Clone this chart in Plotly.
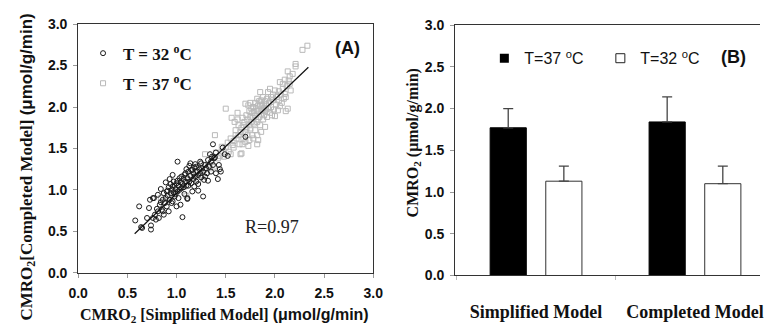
import plotly.graph_objects as go

W, H = 770, 333

# ---------------- Panel A data ----------------
circ_pts = [
    (0.58, 0.63), (0.62, 0.80), (0.64, 0.55), (0.65, 0.54), (0.70, 0.66), (0.72, 0.78),
    (0.73, 0.88), (0.74, 0.57), (0.74, 0.52), (0.76, 0.90), (0.76, 0.66), (0.78, 0.70),
    (0.79, 0.64), (0.80, 0.77), (0.81, 0.74), (0.81, 0.94), (0.82, 0.66), (0.83, 0.82),
    (0.84, 0.85), (0.84, 1.01), (0.85, 0.76), (0.86, 0.74), (0.86, 0.88), (0.87, 0.70),
    (0.87, 0.96), (0.88, 0.84), (0.89, 0.90), (0.89, 1.09), (0.90, 0.80), (0.90, 0.98),
    (0.91, 0.99), (0.91, 0.93), (0.92, 0.74), (0.92, 1.03), (0.93, 0.88), (0.93, 1.13),
    (0.94, 1.07), (0.94, 0.96), (0.95, 0.84), (0.95, 1.00), (0.96, 0.86), (0.96, 1.04),
    (0.97, 0.97), (0.97, 1.10), (0.98, 0.92), (0.98, 1.05), (0.99, 1.01), (0.99, 0.95),
    (1.00, 1.08), (1.00, 0.80), (1.01, 1.11), (1.01, 1.34), (1.01, 0.98), (1.02, 1.05),
    (1.02, 0.90), (1.03, 1.14), (1.03, 1.00), (1.04, 0.82), (1.04, 1.09), (1.05, 1.02),
    (1.05, 1.16), (1.06, 0.67), (1.06, 1.07), (1.07, 1.13), (1.07, 1.03), (1.08, 1.18),
    (1.08, 0.95), (1.09, 1.20), (1.09, 1.10), (1.10, 1.05), (1.10, 1.25), (1.11, 0.90),
    (1.11, 1.14), (1.12, 1.05), (1.12, 1.22), (1.13, 1.10), (1.13, 1.29), (1.14, 1.32),
    (1.14, 1.17), (1.15, 1.08), (1.15, 1.24), (1.16, 1.24), (1.16, 0.98), (1.17, 1.13),
    (1.17, 1.20), (1.18, 1.27), (1.18, 1.04), (1.19, 1.16), (1.19, 1.31), (1.20, 1.28),
    (1.20, 1.10), (1.21, 1.22), (1.22, 1.07), (1.22, 1.18), (1.22, 0.99), (1.23, 1.25),
    (1.24, 1.20), (1.24, 1.34), (1.25, 1.32), (1.25, 1.15), (1.26, 1.26), (1.27, 0.92),
    (1.27, 1.22), (1.28, 1.12), (1.29, 1.16), (1.29, 1.30), (1.30, 1.26), (1.31, 1.20),
    (1.32, 1.11), (1.32, 1.36), (1.33, 1.28), (1.34, 1.43), (1.35, 1.34), (1.35, 1.22),
    (1.36, 1.40), (1.37, 1.55), (1.37, 1.30), (1.38, 1.38), (1.39, 1.39), (1.40, 1.20),
    (1.40, 1.45), (1.42, 1.13), (1.43, 1.30), (1.44, 1.25), (1.45, 1.22), (1.47, 1.51),
    (1.49, 1.43), (1.52, 1.41), (1.70, 1.64), (0.96, 1.18), (1.11, 0.89), (0.77, 0.90),
]
sq_pts = [
    (0.84, 0.90), (0.88, 0.85), (0.95, 0.93), (1.00, 1.02), (1.05, 1.10), (1.08, 1.04),
    (1.10, 0.93), (1.12, 1.12), (1.15, 1.18), (1.18, 1.15), (1.20, 1.22), (1.22, 1.12),
    (1.24, 1.26), (1.26, 1.18), (1.28, 1.24), (1.30, 1.20), (1.32, 1.30), (1.34, 1.26),
    (1.36, 1.34), (1.38, 1.28), (1.29, 1.43), (1.39, 1.66), (1.40, 1.45), (1.42, 1.38),
    (1.44, 1.41), (1.45, 1.45), (1.46, 1.52), (1.48, 1.40), (1.50, 1.51), (1.50, 1.98),
    (1.52, 1.57), (1.53, 1.46), (1.55, 1.43), (1.55, 1.62), (1.56, 1.87), (1.57, 1.54),
    (1.58, 1.59), (1.58, 1.51), (1.59, 1.82), (1.60, 1.66), (1.60, 1.72), (1.61, 1.62),
    (1.62, 1.85), (1.62, 1.93), (1.63, 1.66), (1.63, 1.78), (1.64, 1.55), (1.65, 1.43),
    (1.65, 1.70), (1.66, 1.75), (1.66, 1.44), (1.67, 1.87), (1.67, 1.55), (1.68, 1.62),
    (1.68, 1.78), (1.69, 1.82), (1.70, 2.04), (1.70, 1.70), (1.71, 1.74), (1.71, 1.90),
    (1.72, 1.66), (1.72, 1.85), (1.73, 2.02), (1.73, 1.53), (1.74, 1.78), (1.74, 1.95),
    (1.75, 1.74), (1.75, 2.05), (1.75, 1.88), (1.76, 1.82), (1.76, 1.98), (1.77, 1.66),
    (1.77, 1.93), (1.78, 1.87), (1.78, 2.00), (1.79, 1.80), (1.79, 1.95), (1.80, 1.90),
    (1.80, 2.05), (1.80, 1.72), (1.81, 1.98), (1.81, 1.85), (1.82, 2.10), (1.82, 1.82),
    (1.82, 1.66), (1.82, 1.55), (1.83, 1.95), (1.83, 2.02), (1.84, 1.88), (1.84, 2.07),
    (1.85, 2.18), (1.85, 2.01), (1.85, 1.78), (1.86, 2.08), (1.86, 1.92), (1.87, 1.96),
    (1.87, 2.03), (1.88, 1.85), (1.88, 2.12), (1.89, 1.99), (1.89, 1.90), (1.90, 2.07),
    (1.90, 1.95), (1.91, 1.97), (1.91, 2.03), (1.92, 1.88), (1.92, 2.10), (1.93, 2.18),
    (1.93, 1.98), (1.94, 2.05), (1.95, 2.22), (1.95, 1.93), (1.96, 2.00), (1.96, 2.12),
    (1.97, 1.90), (1.98, 2.08), (1.98, 2.15), (1.99, 1.97), (2.00, 1.89), (2.00, 2.20),
    (2.01, 2.03), (2.02, 2.12), (2.03, 1.96), (2.04, 2.19), (2.04, 2.08), (2.05, 2.30),
    (2.05, 2.01), (2.06, 2.15), (2.07, 2.05), (2.08, 2.28), (2.08, 2.22), (2.09, 2.10),
    (2.10, 2.33), (2.10, 2.16), (2.11, 2.12), (2.11, 1.95), (2.12, 2.25), (2.13, 1.98),
    (2.13, 2.43), (2.14, 2.32), (2.15, 2.37), (2.15, 2.28), (2.16, 2.20), (2.18, 2.40),
    (2.21, 2.52), (2.21, 2.49), (2.28, 2.69), (2.33, 2.74), (1.83, 1.60), (1.78, 1.62),
    (1.86, 1.70), (1.90, 1.76), (1.70, 1.58), (1.74, 1.60),
]
circ_x = [p[0] for p in circ_pts]
circ_y = [p[1] for p in circ_pts]
sq_x = [p[0] for p in sq_pts]
sq_y = [p[1] for p in sq_pts]

fit_x = [0.574, 2.34]
fit_y = [0.47, 2.48]

# ---------------- Panel B data ----------------
categories = ["Simplified Model", "Completed Model"]
t37_mean = [1.77, 1.84]
t37_err = [0.23, 0.30]
t32_mean = [1.13, 1.10]
t32_err = [0.18, 0.21]

ticks = [0.0, 0.5, 1.0, 1.5, 2.0, 2.5, 3.0]
tick_text = ["%.1f" % t for t in ticks]

SERIF = "Liberation Serif"
SANS = "Liberation Sans"
AXC = "#333333"

def px_x(p):
    return p / W

def px_y(p):
    return 1 - p / H

fig = go.Figure()

fig.add_trace(go.Scatter(
    x=sq_x, y=sq_y, mode="markers", name="T = 37 <sup>o</sup>C",
    marker=dict(symbol="square-open", size=5, color="#b9b9b9", line=dict(width=1)),
    xaxis="x", yaxis="y", legend="legend", legendrank=2, legendgroup="a37",
))
fig.add_trace(go.Scatter(
    x=circ_x, y=circ_y, mode="markers", name="T = 32 <sup>o</sup>C",
    marker=dict(symbol="circle-open", size=5, color="#1a1a1a", line=dict(width=1)),
    xaxis="x", yaxis="y", legend="legend", legendrank=1, legendgroup="a32",
))
fig.add_trace(go.Scatter(
    x=fit_x, y=fit_y, mode="lines", line=dict(color="#111111", width=1.2),
    showlegend=False, xaxis="x", yaxis="y",
))

fig.add_trace(go.Bar(
    x=categories, y=t37_mean, name="T=37 <sup>o</sup>C",
    marker=dict(color="black", line=dict(color="black", width=1)),
    error_y=dict(type="data", array=t37_err, arrayminus=[0, 0], symmetric=False,
                 color="#444444", thickness=1.3, width=5),
    xaxis="x2", yaxis="y2", showlegend=False, offsetgroup="a",
))
fig.add_trace(go.Bar(
    x=categories, y=t32_mean, name="T=32 <sup>o</sup>C",
    marker=dict(color="white", line=dict(color="#333333", width=1)),
    error_y=dict(type="data", array=t32_err, arrayminus=[0, 0], symmetric=False,
                 color="#444444", thickness=1.3, width=5),
    xaxis="x2", yaxis="y2", showlegend=False, offsetgroup="b",
))
# legend entries for panel B
fig.add_trace(go.Scatter(
    x=[None], y=[None], mode="markers", name="T=37 <sup>o</sup>C",
    marker=dict(symbol="square", size=9, color="black"),
    xaxis="x2", yaxis="y2", legend="legend2",
))
fig.add_trace(go.Scatter(
    x=[None], y=[None], mode="markers", name="T=32 <sup>o</sup>C",
    marker=dict(symbol="square-open", size=9, color="#222222", line=dict(width=1)),
    xaxis="x2", yaxis="y2", legend="legend2",
))

def tickfont():
    return dict(family=SANS, size=14, color="#111111", weight="bold")

def common_ax():
    return dict(showline=True, linecolor=AXC, linewidth=1, ticks="outside",
                ticklen=4, tickcolor="#999999", showgrid=False, zeroline=False,
                tickfont=tickfont())

fig.update_layout(
    width=W, height=H, margin=dict(l=0, r=0, t=0, b=0),
    paper_bgcolor="white", plot_bgcolor="white",
    bargap=0.30, bargroupgap=0.35, barmode="group",
    xaxis=dict(domain=[px_x(70), px_x(373)], range=[0, 3], tickvals=ticks,
               ticktext=tick_text, mirror=True, anchor="y",
               ticklabelstandoff=4, **common_ax()),
    yaxis=dict(domain=[px_y(278), px_y(17)], range=[0, 3], tickvals=ticks,
               ticktext=tick_text, mirror=True, anchor="x",
               ticklabelstandoff=3, **common_ax()),
    xaxis2=dict(domain=[px_x(457), 1.0], range=[-0.509, 1.409], mirror=True, anchor="y2",
                showline=True, linecolor=AXC, linewidth=1, ticks="outside",
                tickson="boundaries", ticklen=4, tickcolor="#bbbbbb",
                showgrid=False, zeroline=False, ticklabelstandoff=20,
                tickfont=dict(family=SERIF, size=18, color="#111111", weight="bold")),
    yaxis2=dict(domain=[px_y(281), px_y(18)], range=[0, 3], tickvals=ticks,
                ticktext=tick_text, anchor="x2", ticklabelstandoff=3, **common_ax()),
    legend=dict(x=px_x(75), y=px_y(29), xanchor="left", yanchor="top",
                bgcolor="rgba(0,0,0,0)", borderwidth=0, traceorder="grouped",
                tracegroupgap=5,
                font=dict(family=SERIF, size=17, color="#111111", weight="bold")),
    legend2=dict(x=px_x(487), y=px_y(35), xanchor="left", yanchor="top",
                 orientation="h", bgcolor="rgba(0,0,0,0)", borderwidth=0,
                 entrywidth=71, entrywidthmode="pixels",
                 font=dict(family=SANS, size=16, color="#111111")),
)

def ann(text, x, y, font, angle=0):
    return dict(text=text, x=px_x(x), y=px_y(y), xref="paper", yref="paper",
                xanchor="center", yanchor="middle", showarrow=False,
                textangle=angle, font=font)

annotations = [
    ann("(A)", 347, 42, dict(family=SANS, size=18, color="#111111", weight="bold")),
    ann("(B)", 743, 51, dict(family=SANS, size=18, color="#111111", weight="bold")),
    ann("R=0.97", 269, 230, dict(family=SERIF, size=18, color="#222222")),
    ann("CMRO<sub>2</sub> [Simplified Model] <span style='font-family:Liberation Sans'>(\u03bcmol/g/min)</span>",
        220, 323, dict(family=SERIF, size=16, color="#111111", weight="bold")),
    ann("CMRO<sub>2</sub>[Completed Model] <span style='font-family:Liberation Sans'>(\u03bcmol/g/min)</span>",
        18, 167, dict(family=SERIF, size=17, color="#111111", weight="bold"), -90),
    ann("CMRO<sub>2</sub> (\u03bcmol/g/min)",
        414, 142, dict(family=SERIF, size=16, color="#111111", weight="bold"), -90),
]
fig.update_layout(annotations=annotations)

fig.write_html("out.html")
